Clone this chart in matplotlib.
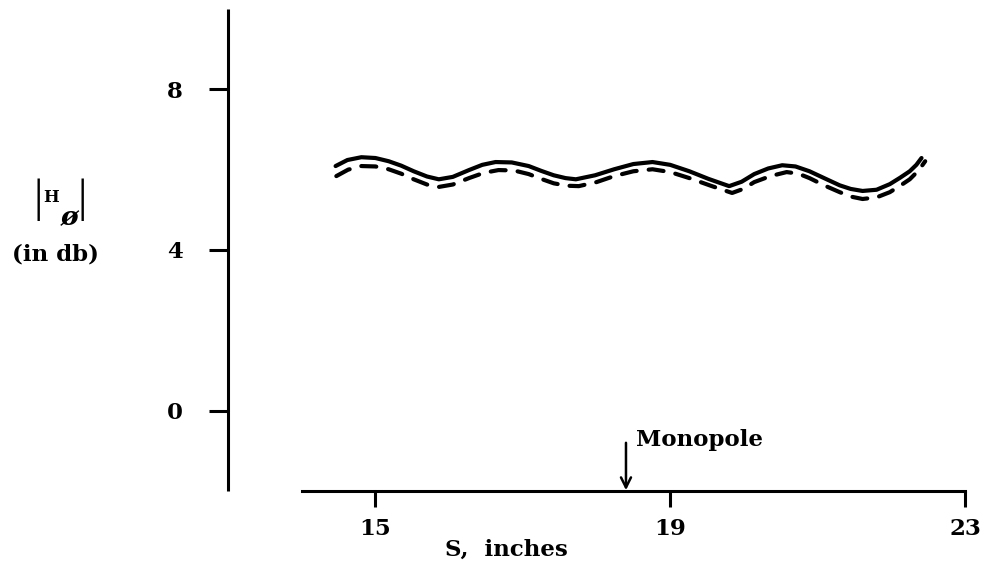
import matplotlib
matplotlib.use("Agg")
import matplotlib.pyplot as plt

# Field magnitude |H_phi| (dB) against probe position S (inches)
s_solid = [14.46, 14.62, 14.81, 15.00, 15.18, 15.35, 15.52, 15.70, 15.86, 16.05, 16.27, 16.45,
           16.63, 16.85, 17.08, 17.25, 17.42, 17.58, 17.72, 17.98, 18.24, 18.50, 18.76, 19.00,
           19.26, 19.52, 19.80, 19.97, 20.14, 20.33, 20.52, 20.70, 20.89, 21.10, 21.30, 21.45,
           21.61, 21.80, 21.98, 22.12, 22.25, 22.34, 22.41]
h_solid = [6.09, 6.24, 6.31, 6.29, 6.21, 6.10, 5.96, 5.83, 5.76, 5.82, 5.99, 6.12,
           6.19, 6.18, 6.09, 5.97, 5.86, 5.79, 5.76, 5.86, 6.01, 6.14, 6.19, 6.12,
           5.96, 5.77, 5.59, 5.70, 5.89, 6.03, 6.11, 6.08, 5.96, 5.78, 5.61, 5.52,
           5.47, 5.50, 5.64, 5.80, 5.96, 6.12, 6.29]

s_dashed = [14.47, 14.63, 14.81, 15.00, 15.18, 15.35, 15.52, 15.70, 15.86, 16.05, 16.27, 16.47,
            16.67, 16.88, 17.08, 17.25, 17.42, 17.60, 17.76, 18.00, 18.24, 18.50, 18.76, 19.00,
            19.26, 19.55, 19.84, 19.99, 20.14, 20.36, 20.58, 20.74, 20.89, 21.10, 21.30, 21.45,
            21.61, 21.80, 21.98, 22.12, 22.25, 22.37, 22.46]
h_dashed = [5.84, 6.00, 6.09, 6.08, 6.01, 5.90, 5.76, 5.63, 5.57, 5.63, 5.79, 5.92,
            5.99, 5.98, 5.89, 5.77, 5.66, 5.60, 5.59, 5.69, 5.84, 5.96, 6.01, 5.94,
            5.79, 5.60, 5.42, 5.52, 5.69, 5.84, 5.94, 5.90, 5.79, 5.60, 5.44, 5.33,
            5.27, 5.31, 5.44, 5.60, 5.76, 5.98, 6.21]

x_ticks = [15, 19, 23]
y_ticks = [0, 4, 8]
monopole_s = 18.40

font = "DejaVu Serif"
fsize = 16.5

fig = plt.figure(figsize=(9.82, 5.67), dpi=100)
ax = fig.add_axes([228 / 982, 1 - 491 / 567, (965 - 228) / 982, (491 - 9) / 567])
ax.set_xlim(13, 23)
ax.set_ylim(-2, 10)

ax.plot(s_solid, h_solid, color="black", lw=3.0, solid_capstyle="round",
        solid_joinstyle="round")
ax.plot(s_dashed, h_dashed, color="black", lw=3.0, dashes=(3.6, 2.9),
        dash_capstyle="round", dash_joinstyle="round")

for side in ("top", "right"):
    ax.spines[side].set_visible(False)
ax.spines["left"].set_linewidth(2.2)
ax.spines["bottom"].set_linewidth(2.2)
ax.spines["bottom"].set_bounds(14, 23)
ax.spines["left"].set_capstyle("butt")

ax.set_xticks(x_ticks)
ax.set_xticklabels([str(t) for t in x_ticks])
ax.set_yticks(y_ticks)
ax.set_yticklabels([str(t) for t in y_ticks])
ax.tick_params(axis="y", direction="out", length=13.7, width=2.2, pad=19)
ax.tick_params(axis="x", direction="out", length=11.5, width=2.2, pad=8)
for lab in ax.get_xticklabels() + ax.get_yticklabels():
    lab.set_fontfamily(font)
    lab.set_fontweight("bold")
    lab.set_fontsize(fsize)

# x-axis caption
fig.text(506 / 982, 1 - 550 / 567, "S,  inches", family=font, weight="bold",
         fontsize=fsize, ha="center", va="center")

# y-axis caption: |H_phi| over "(in db)"
fig.text(38 / 982, 1 - 200 / 567, "|", family="Liberation Serif", fontsize=34,
         ha="center", va="center")
fig.text(82 / 982, 1 - 200 / 567, "|", family="Liberation Serif", fontsize=34,
         ha="center", va="center")
fig.text(51 / 982, 1 - 198 / 567, "H", family=font, weight="bold", fontsize=12,
         ha="center", va="center")
fig.text(70 / 982, 1 - 218 / 567, "ø", family=font, weight="bold", fontsize=19,
         ha="center", va="center", style="italic")
fig.text(55 / 982, 1 - 254 / 567, "(in db)", family=font, weight="bold", fontsize=fsize,
         ha="center", va="center")

# monopole location marker
ax.annotate("", xy=(monopole_s, -1.98), xytext=(monopole_s, -0.80),
            arrowprops=dict(arrowstyle="->", color="black", lw=1.8,
                            mutation_scale=18, shrinkA=0, shrinkB=0))
ax.text(monopole_s + 0.13, -0.87, "Monopole", family=font, weight="bold",
        fontsize=fsize, ha="left", va="baseline")

fig.savefig("out.png", dpi=100)
